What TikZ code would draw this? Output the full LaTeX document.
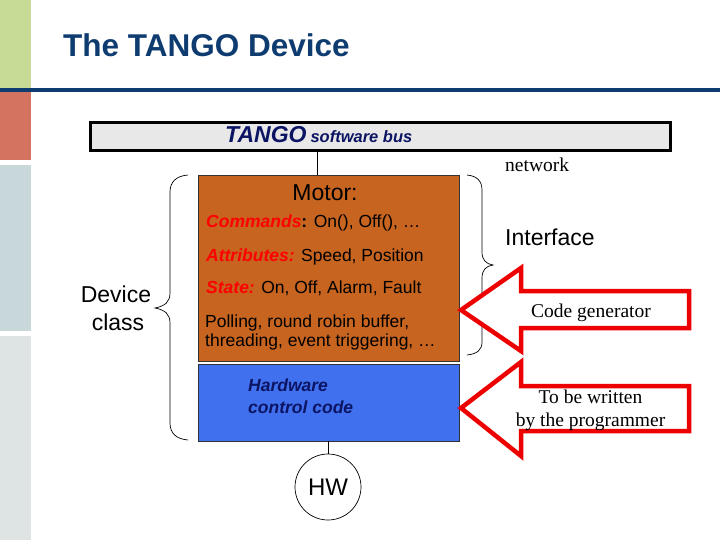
\documentclass[tikz,border=0pt]{standalone}
\usepackage{fontspec}
\setmainfont{Liberation Serif}
\newfontfamily\arial{Liberation Sans}
\definecolor{stripgreen}{RGB}{200,219,150}
\definecolor{stripred}{RGB}{212,116,96}
\definecolor{stripblue}{RGB}{200,215,218}
\definecolor{stripgrey}{RGB}{222,228,228}
\definecolor{titleblue}{RGB}{15,60,112}
\definecolor{navy}{RGB}{12,20,100}
\definecolor{motororange}{RGB}{198,100,32}
\definecolor{hwblue}{RGB}{64,112,238}
\definecolor{busgrey}{RGB}{232,232,232}
\definecolor{arrowred}{RGB}{236,0,0}
\tikzset{
  fs/.style={font=\arial\fontsize{#1}{#1}\selectfont},
  box/.style={draw=black!80, line width=0.8pt, inner sep=0pt},
  bigarrow/.style={draw=arrowred, line width=4.5pt, line join=miter, fill=white},
  brace/.style={draw=black, line width=0.7pt},
  redit/.style={text=red}
}
\begin{document}
\begin{tikzpicture}[x=1pt,y=-1pt]
\useasboundingbox (0,0) rectangle (720,540);
% side strips
\fill[stripgreen] (0,0) rectangle (31,88);
\fill[stripred] (0,90) rectangle (31,160);
\fill[stripblue] (0,165) rectangle (31,331);
\fill[stripgrey] (0,336) rectangle (31,540);
\fill[titleblue] (0,88.3) rectangle (720,91.7);
% title
\node[anchor=base west, inner sep=0pt, text=titleblue, font=\arial\bfseries\fontsize{31.5}{31.5}\selectfont] (title) at (63,57) {The TANGO Device};
% bus
\node[draw=black, line width=3pt, fill=busgrey, minimum width=580, minimum height=28, inner sep=0pt] (bus) at (380,137) {};
\node[anchor=base west, inner sep=0pt, text=navy] (bustext) at (225,143)
  {\arial\bfseries\itshape{\fontsize{23}{23}\selectfont TANGO}\hspace{4pt}{\fontsize{16.5}{16.5}\selectfont software bus}};
% motor box
\node[box, fill=motororange, minimum width=261, minimum height=186] (motor) at (328.5,268) {};
\node[box, fill=hwblue, minimum width=261, minimum height=77] (hwcode) at (328.5,402.5) {};
\node[anchor=base, inner sep=0pt, fs=23] (motortitle) at (325,201) {Motor:};
\node[anchor=base west, inner sep=0pt, fs=17.5] (cmd) at (206,228)
  {{\bfseries\itshape\color{red}Commands}\textbf{:} On(), Off(), …};
\node[anchor=base west, inner sep=0pt, fs=17.5] (attr) at (206,261)
  {{\bfseries\itshape\color{red}Attributes:} Speed, Position};
\node[anchor=base west, inner sep=0pt, fs=17.5] (state) at (206,293)
  {{\bfseries\itshape\color{red}State:} On, Off, Alarm, Fault};
\node[anchor=base west, inner sep=0pt, fs=17.5, align=left] (poll) at (205,327)
  {Polling, round robin buffer,};
\node[anchor=base west, inner sep=0pt, fs=17.5, align=left] (thread) at (205,346.5)
  {threading, event triggering, …};
\node[anchor=base west, inner sep=0pt, text=navy, font=\arial\bfseries\itshape\fontsize{17.5}{17.5}\selectfont] (hw1) at (248,391) {Hardware};
\node[anchor=base west, inner sep=0pt, text=navy, font=\arial\bfseries\itshape\fontsize{17.5}{17.5}\selectfont] (hw2) at (248,413) {control code};
% HW circle
\node[draw=black, line width=0.7pt, circle, minimum size=66, inner sep=0pt, fs=24] (hw) at (328,487) {HW};
% connectors
\draw[line width=0.7pt] (bus.south -| 317,0) -- (motor.north -| 317,0);
\draw[line width=0.7pt] (hwcode.south -| hw.north) -- (hw.north);
% left brace
\draw[brace] (188,175) .. controls (176,176) and (170,182) .. (170,192) -- (170,293)
  .. controls (170,302) and (165,306) .. (155,308)
  .. controls (165,310) and (170,314) .. (170,323) -- (170,423)
  .. controls (170,433) and (176,439) .. (188,440);
\node[anchor=base, inner sep=0pt, fs=23] (dev1) at (116,302) {Device};
\node[anchor=base, inner sep=0pt, fs=23] (dev2) at (118,330) {class};
% right brace
\draw[brace] (467,175) .. controls (477,176) and (482,181) .. (482,190) -- (482,252)
  .. controls (482,260) and (486,264) .. (493,265)
  .. controls (486,266) and (482,270) .. (482,278) -- (482,342)
  .. controls (482,350) and (477,354) .. (467,355);
\node[anchor=base west, inner sep=0pt, font=\fontsize{19.5}{19.5}\selectfont] (net) at (505,172) {network};
\node[anchor=base west, inner sep=0pt, fs=23] (iface) at (505,245) {Interface};
% arrows
\draw[bigarrow] (461,310) -- (521,268) -- (521,291) -- (689,291) -- (689,328) -- (521,328) -- (521,351) -- cycle;
\draw[bigarrow] (461,408) -- (521,362) -- (521,386) -- (689,386) -- (689,431) -- (521,431) -- (521,456) -- cycle;
\node[anchor=base, inner sep=0pt, font=\fontsize{19.5}{19.5}\selectfont] (codegen) at (591,317) {Code generator};
\node[anchor=base, inner sep=0pt, font=\fontsize{19.5}{19.5}\selectfont] (tbw1) at (590.5,403) {To be written};
\node[anchor=base, inner sep=0pt, font=\fontsize{19.5}{19.5}\selectfont] (tbw2) at (590.5,426) {by the programmer};
\end{tikzpicture}
\end{document}
